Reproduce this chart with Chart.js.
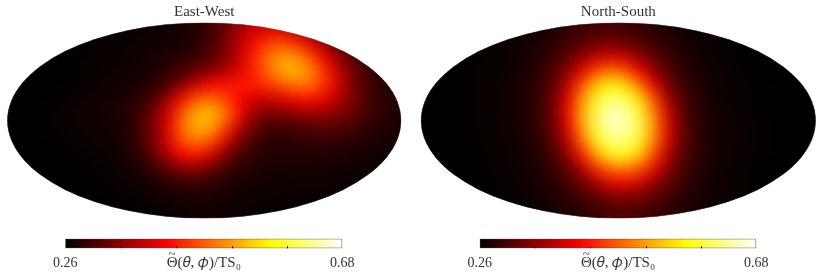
<!DOCTYPE html>
<html>
<head>
<meta charset="utf-8">
<script src="https://cdn.jsdelivr.net/npm/chart.js@4"></script>
<style>
  body { margin: 0; background: #fff; }
  canvas { position: absolute; }
</style>
</head>
<body>
<canvas id="mapEW" width="411" height="225" style="left:0;top:0"></canvas>
<canvas id="mapNS" width="411" height="225" style="left:411px;top:0"></canvas>
<canvas id="barEW" width="411" height="54" style="left:0;top:225px"></canvas>
<canvas id="barNS" width="411" height="54" style="left:411px;top:225px"></canvas>
<script>
const titles = ['East-West', 'North-South'];
const tickValues = [0.26, 0.344, 0.428, 0.512, 0.596, 0.68];
const tickLabels = ['0.26', '', '', '', '', '0.68'];
const colorLabel = 'Θ(𝜃, 𝜙)/TS₀';
const hotStops = [[0, '#000000'], [0.365, '#ff0000'], [0.746, '#ffff00'], [1, '#ffffff']];

// rows run north to south, columns west to east
const eastWest = [
  [.26,.26,.26,.26,.26,.26,.262,.264,.265,.266,.268,.27,.272,.283,.298,.323,.352,.378,.39,.386,.365,.338,.31,.29,.277,.272,.268,.265],
  [.26,.26,.26,.26,.26,.262,.264,.265,.266,.268,.27,.272,.275,.283,.302,.33,.371,.415,.449,.459,.439,.40,.357,.319,.294,.279,.273,.27],
  [.26,.26,.26,.26,.262,.264,.265,.266,.268,.272,.276,.28,.285,.294,.31,.336,.378,.432,.482,.516,.51,.468,.407,.35,.312,.289,.277,.273],
  [.26,.26,.26,.26,.262,.264,.265,.266,.268,.272,.277,.285,.302,.323,.344,.365,.39,.428,.478,.52,.532,.505,.448,.384,.333,.30,.283,.275],
  [.26,.26,.26,.26,.262,.264,.266,.27,.273,.277,.285,.31,.344,.385,.415,.425,.43,.43,.44,.465,.486,.484,.445,.39,.335,.306,.287,.277],
  [.26,.26,.26,.262,.264,.266,.27,.272,.277,.284,.309,.355,.42,.47,.482,.455,.41,.385,.38,.39,.411,.42,.405,.37,.335,.308,.29,.281],
  [.26,.26,.262,.265,.268,.27,.27,.275,.283,.30,.332,.392,.47,.528,.535,.495,.42,.35,.336,.338,.344,.352,.352,.344,.323,.304,.289,.281],
  [.26,.26,.262,.264,.266,.268,.27,.273,.28,.30,.337,.398,.485,.528,.52,.455,.376,.327,.298,.296,.302,.308,.312,.308,.302,.289,.281,.275],
  [.26,.26,.26,.262,.264,.266,.268,.27,.278,.298,.336,.40,.465,.49,.465,.395,.333,.302,.289,.287,.289,.291,.291,.289,.285,.281,.275,.272],
  [.26,.26,.26,.26,.262,.264,.266,.268,.275,.29,.32,.365,.41,.42,.388,.337,.303,.287,.281,.279,.279,.279,.279,.277,.275,.272,.27,.268],
  [.26,.26,.26,.26,.26,.262,.264,.266,.27,.278,.294,.315,.338,.34,.32,.30,.285,.279,.275,.274,.274,.274,.273,.272,.27,.268,.266,.265],
  [.26,.26,.26,.26,.26,.26,.262,.264,.266,.27,.275,.283,.292,.294,.289,.28,.275,.272,.27,.269,.268,.268,.268,.267,.266,.265,.264,.262],
  [.26,.26,.26,.26,.26,.26,.26,.262,.264,.266,.269,.272,.276,.278,.276,.272,.27,.268,.267,.266,.266,.265,.265,.264,.263,.262,.26,.26],
  [.26,.26,.26,.26,.26,.26,.26,.26,.26,.262,.264,.266,.268,.27,.27,.269,.268,.266,.265,.264,.264,.263,.262,.26,.26,.26,.26,.26]
];

const northSouth = [
  [.26,.26,.26,.26,.262,.264,.266,.268,.273,.279,.286,.294,.30,.302,.298,.291,.283,.277,.271,.268,.265,.263,.262,.26,.26,.26,.26,.26],
  [.26,.26,.26,.262,.263,.265,.268,.272,.277,.286,.30,.315,.327,.331,.323,.31,.296,.284,.275,.271,.267,.264,.263,.262,.26,.26,.26,.26],
  [.26,.26,.26,.263,.263,.265,.268,.273,.282,.297,.317,.348,.38,.394,.382,.348,.317,.297,.282,.273,.268,.265,.263,.262,.26,.26,.26,.26],
  [.26,.26,.26,.263,.264,.266,.27,.276,.288,.308,.348,.403,.462,.485,.466,.411,.352,.312,.29,.277,.27,.266,.264,.262,.26,.26,.26,.26],
  [.26,.26,.26,.263,.264,.267,.271,.278,.292,.321,.38,.47,.546,.577,.558,.493,.403,.331,.30,.281,.272,.268,.265,.263,.262,.26,.26,.26],
  [.26,.26,.26,.263,.264,.267,.271,.279,.295,.327,.403,.512,.59,.622,.612,.56,.464,.365,.31,.287,.274,.268,.265,.263,.262,.26,.26,.26],
  [.26,.26,.26,.263,.264,.267,.271,.279,.297,.331,.415,.53,.612,.652,.645,.594,.502,.386,.319,.289,.275,.269,.266,.263,.262,.26,.26,.26],
  [.26,.26,.26,.263,.264,.266,.27,.278,.294,.325,.403,.52,.61,.655,.648,.61,.512,.399,.323,.293,.277,.27,.266,.264,.262,.26,.26,.26],
  [.26,.26,.26,.262,.264,.266,.269,.276,.29,.315,.38,.485,.58,.622,.625,.588,.502,.394,.323,.293,.277,.27,.266,.264,.262,.26,.26,.26],
  [.26,.26,.26,.26,.263,.265,.268,.274,.284,.305,.348,.428,.52,.577,.586,.546,.457,.369,.315,.291,.276,.269,.266,.264,.262,.26,.26,.26],
  [.26,.26,.26,.26,.263,.265,.267,.272,.279,.294,.319,.367,.436,.478,.487,.466,.403,.344,.306,.287,.274,.268,.265,.263,.26,.26,.26,.26],
  [.26,.26,.26,.26,.26,.264,.266,.269,.275,.284,.302,.325,.361,.394,.403,.386,.352,.317,.296,.281,.273,.268,.265,.263,.26,.26,.26,.26],
  [.26,.26,.26,.26,.26,.263,.265,.268,.272,.278,.288,.30,.317,.331,.336,.329,.317,.30,.287,.277,.271,.267,.265,.263,.26,.26,.26,.26],
  [.26,.26,.26,.26,.26,.26,.263,.265,.268,.272,.278,.285,.294,.302,.306,.302,.296,.287,.279,.273,.268,.266,.264,.262,.26,.26,.26,.26]
];

const vMin = tickValues[0];
const vMax = tickValues[tickValues.length - 1];
const serif = '"Liberation Serif", serif';

function hexToRgb(hex) {
  return [1, 3, 5].map(i => parseInt(hex.slice(i, i + 2), 16));
}

function hotColor(v) {
  const p = Math.min(1, Math.max(0, (v - vMin) / (vMax - vMin)));
  let i = 0;
  while (i < hotStops.length - 2 && p > hotStops[i + 1][0]) i++;
  const t = (p - hotStops[i][0]) / (hotStops[i + 1][0] - hotStops[i][0]);
  const a = hexToRgb(hotStops[i][1]);
  const b = hexToRgb(hotStops[i + 1][1]);
  return `rgb(${a.map((c, k) => Math.round(c + (b[k] - c) * t)).join(',')})`;
}

// smooths the cells and cuts them to the Mollweide outline
const ellipseClip = {
  id: 'ellipseClip',
  afterDatasetsDraw(chart) {
    const { ctx, canvas, chartArea: a } = chart;
    const off = document.createElement('canvas');
    off.width = canvas.width;
    off.height = canvas.height;
    off.getContext('2d').drawImage(canvas, 0, 0);
    const w = a.right - a.left;
    const h = a.bottom - a.top;
    ctx.save();
    ctx.clearRect(a.left - 1, a.top - 1, w + 2, h + 2);
    ctx.beginPath();
    ctx.ellipse(a.left + w / 2, a.top + h / 2, w / 2, h / 2, 0, 0, Math.PI * 2);
    ctx.save();
    ctx.clip();
    ctx.drawImage(off, a.left, a.top, w, h, a.left, a.top, w, h);
    ctx.filter = 'blur(8px)';
    ctx.drawImage(off, a.left, a.top, w, h, a.left, a.top, w, h);
    ctx.restore();
    ctx.strokeStyle = 'rgba(120,110,110,0.6)';
    ctx.lineWidth = 0.5;
    ctx.stroke();
    ctx.restore();
  }
};

// inward ticks on the colour bar and the tilde over the label's Theta
const barMarks = {
  id: 'barMarks',
  afterDraw(chart) {
    const { ctx, chartArea: a, scales } = chart;
    ctx.save();
    ctx.strokeStyle = '#000';
    ctx.lineWidth = 1;
    tickValues.slice(1, -1).forEach(v => {
      const x = Math.round(scales.x.getPixelForValue(v)) + 0.5;
      ctx.beginPath();
      ctx.moveTo(x, a.bottom);
      ctx.lineTo(x, a.bottom - 2);
      ctx.stroke();
    });
    ctx.font = `15px ${serif}`;
    const start = (a.left + a.right) / 2 - ctx.measureText(colorLabel).width / 2;
    const theta = ctx.measureText('Θ').width;
    ctx.font = `13px ${serif}`;
    ctx.fillStyle = '#333';
    ctx.textAlign = 'center';
    ctx.textBaseline = 'alphabetic';
    ctx.fillText('~', start + theta / 2, 33);
    ctx.restore();
  }
};

function drawMap(id, title, grid, padLeft, padRight) {
  const cells = [];
  const colors = [];
  grid.forEach((row, j) => row.forEach((v, i) => {
    cells.push({ x: i + 0.5, y: j + 0.5 });
    colors.push(hotColor(v));
  }));
  new Chart(document.getElementById(id), {
    type: 'scatter',
    data: {
      datasets: [{
        data: cells,
        pointStyle: 'rect',
        pointRadius: 10.5,
        pointBorderWidth: 0,
        pointBackgroundColor: colors,
        clip: false
      }]
    },
    options: {
      responsive: false,
      animation: false,
      events: [],
      layout: { autoPadding: false, padding: { left: padLeft, right: padRight, top: 0, bottom: 6.7 } },
      scales: {
        x: { display: false, min: 0, max: grid[0].length },
        y: { display: false, min: 0, max: grid.length, reverse: true }
      },
      plugins: {
        legend: { display: false },
        tooltip: { enabled: false },
        title: {
          display: true,
          text: title,
          color: '#333',
          font: { family: serif, size: 15, weight: 'normal' },
          padding: { top: 3, bottom: 1.7 }
        }
      }
    },
    plugins: [ellipseClip]
  });
}

function drawBar(id, padLeft, padRight) {
  new Chart(document.getElementById(id), {
    type: 'bar',
    data: {
      labels: [''],
      datasets: [{
        data: [[vMin, vMax]],
        barPercentage: 1,
        categoryPercentage: 1,
        borderWidth: 1,
        borderColor: '#444',
        borderSkipped: false,
        backgroundColor(c) {
          const a = c.chart.chartArea;
          if (!a) return '#000';
          const g = c.chart.ctx.createLinearGradient(a.left, 0, a.right, 0);
          hotStops.forEach(s => g.addColorStop(s[0], s[1]));
          return g;
        }
      }]
    },
    options: {
      indexAxis: 'y',
      responsive: false,
      animation: false,
      events: [],
      layout: { autoPadding: false, padding: { left: padLeft, right: padRight, top: 13.7, bottom: 5 } },
      scales: {
        y: { display: false },
        x: {
          min: vMin,
          max: vMax,
          grid: { display: false, drawTicks: false, tickLength: 0 },
          border: { display: false },
          afterBuildTicks(scale) {
            scale.ticks = tickValues.map(v => ({ value: v }));
          },
          afterFit(scale) {
            scale.height = 25.7;
          },
          ticks: {
            autoSkip: false,
            maxRotation: 0,
            padding: 6.3,
            color: '#333',
            font: { family: serif, size: 14 },
            callback: (v, i) => tickLabels[i]
          },
          title: {
            display: true,
            text: colorLabel,
            color: '#333',
            font: { family: serif, size: 15 },
            padding: { top: 0, bottom: 2 }
          }
        }
      },
      plugins: { legend: { display: false }, tooltip: { enabled: false } }
    },
    plugins: [barMarks]
  });
}

drawMap('mapEW', titles[0], eastWest, 7.3, 9.9);
drawMap('mapNS', titles[1], northSouth, 10, 6.3);
drawBar('barEW', 65.3, 68.7);
drawBar('barNS', 68.7, 65.7);
</script>
</body>
</html>
